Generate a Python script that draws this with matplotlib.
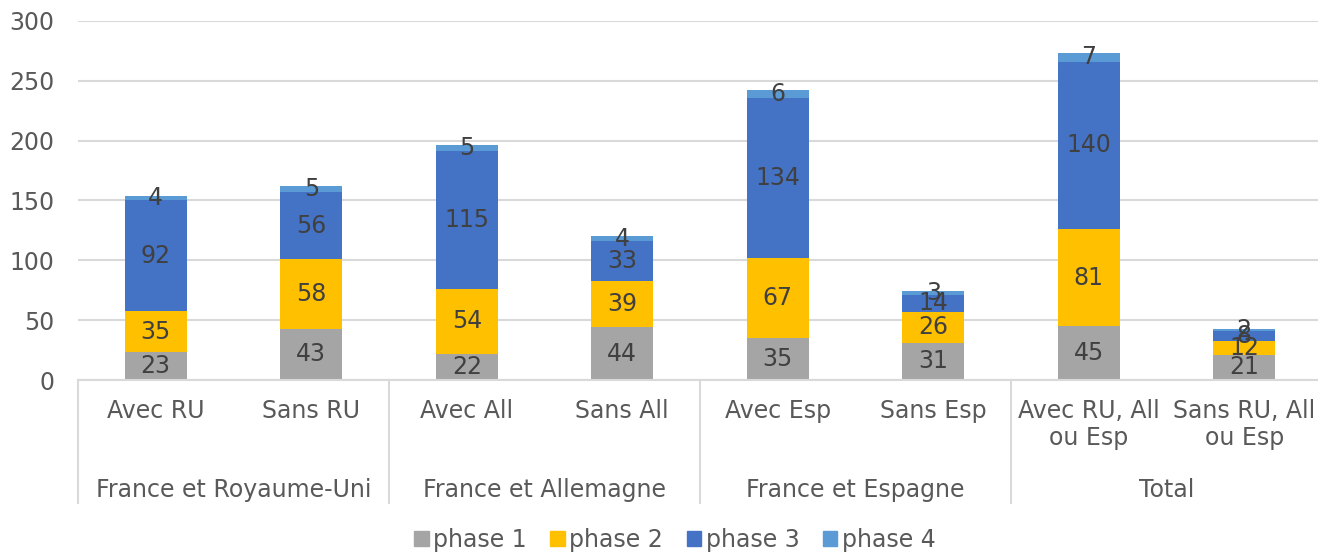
import matplotlib.pyplot as plt
import matplotlib.transforms as mtransforms
from matplotlib.patches import Patch
import numpy as np

categories = ["Avec RU", "Sans RU", "Avec All", "Sans All",
              "Avec Esp", "Sans Esp", "Avec RU, All\nou Esp", "Sans RU, All\nou Esp"]
groups = ["France et Royaume-Uni", "France et Allemagne", "France et Espagne", "Total"]
phase1 = [23, 43, 22, 44, 35, 31, 45, 21]
phase2 = [35, 58, 54, 39, 67, 26, 81, 12]
phase3 = [92, 56, 115, 33, 134, 14, 140, 8]
phase4 = [4, 5, 5, 4, 6, 3, 7, 2]

series = [("phase 1", phase1, "#A5A5A5"),
          ("phase 2", phase2, "#FFC000"),
          ("phase 3", phase3, "#4472C4"),
          ("phase 4", phase4, "#5B9BD5")]

txt = "#595959"
lab = "#404040"
gridc = "#D9D9D9"
fs = 17

plt.rcParams["font.family"] = ["DejaVu Sans"]

fig = plt.figure(figsize=(13.18, 5.53), dpi=100)
ax = fig.add_axes([78 / 1318, 1 - 380 / 553, 1244 / 1318, 359 / 553])

x = np.arange(len(categories))
bottom = np.zeros(len(categories))
for name, vals, col in series:
    vals = np.array(vals)
    ax.bar(x, vals, 0.4, bottom=bottom, color=col, label=name, zorder=2)
    for xi, b, v in zip(x, bottom, vals):
        ax.text(xi, b + v / 2, str(v), ha="center", va="center",
                fontsize=fs, color=lab, zorder=3)
    bottom = bottom + vals

ax.set_xlim(-0.5, 7.5)
ax.set_ylim(0, 300)
ax.set_yticks(range(0, 301, 50))
ax.yaxis.grid(True, color=gridc, linewidth=1.5, zorder=0)
ax.set_axisbelow(True)
for s in ["top", "right", "left"]:
    ax.spines[s].set_visible(False)
ax.spines["bottom"].set_color(gridc)
ax.spines["bottom"].set_linewidth(1.5)
ax.tick_params(axis="y", length=0, labelsize=fs, labelcolor=txt, pad=17)
ax.tick_params(axis="x", length=0, labelsize=fs, labelcolor=txt, pad=14)
ax.set_xticks(x)
ax.set_xticklabels(categories, linespacing=1.15)

trans = mtransforms.blended_transform_factory(ax.transData, ax.transAxes)
depth = (503 - 380) / 359
for sep in [-0.5, 1.5, 3.5, 5.5, 7.5]:
    ax.plot([sep, sep], [0, -depth], transform=trans, color=gridc,
            linewidth=1.5, clip_on=False)
for i, g in enumerate(groups):
    ax.text(2 * i + 0.5, -(490 - 380) / 359, g, transform=trans, ha="center",
            va="center", fontsize=fs, color=txt)

handles = [Patch(color=c, label=n) for n, _, c in series]
fig.legend(handles=handles, loc="center", bbox_to_anchor=(675 / 1318, 1 - 540 / 553),
           ncol=4, frameon=False, fontsize=fs, handlelength=0.6, handleheight=0.6,
           handletextpad=0.2, columnspacing=1.0, labelcolor=txt)

fig.savefig("out.png", dpi=100)
